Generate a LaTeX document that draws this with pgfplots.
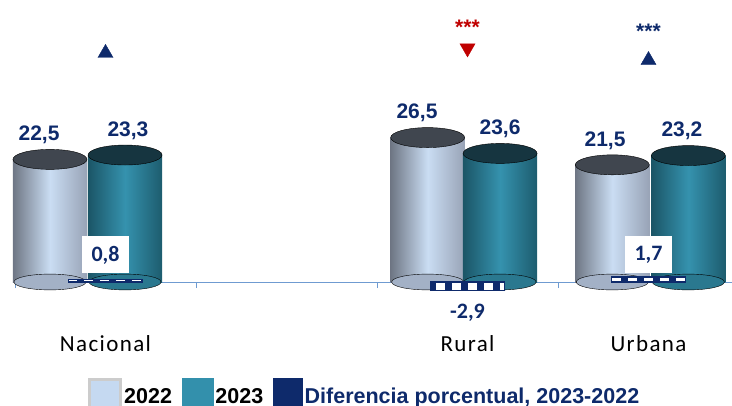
\documentclass[border=0pt]{standalone}
\usepackage{pgfplots}
\pgfplotsset{compat=1.18}
\usepackage{fontspec}
\setmainfont{Liberation Sans}
\newfontfamily\catfont[LetterSpace=6]{Carlito}
\newfontfamily\carl{Carlito}
\usetikzlibrary{patterns.meta}
\definecolor{navy}{HTML}{0E2A6B}
\definecolor{dred}{HTML}{C00000}
\definecolor{lb}{HTML}{CADDF3}
\definecolor{lbl}{HTML}{6E7684}
\definecolor{lbr}{HTML}{98A3B6}
\definecolor{lbtop}{HTML}{40464F}
\definecolor{lbbot}{HTML}{A3B1C6}
\definecolor{tl}{HTML}{3592AE}
\definecolor{tll}{HTML}{1B5566}
\definecolor{tlr}{HTML}{1D5C6E}
\definecolor{tltop}{HTML}{163540}
\definecolor{tlbot}{HTML}{2A788F}
\definecolor{axblue}{HTML}{6F9BD1}
\definecolor{legbl}{HTML}{C5D9F1}
\definecolor{legtl}{HTML}{3390AC}
\pgfplotsset{
  cylA/.style={forget plot, ybar, bar width=0.41, bar shift=0pt, draw=none,
    left color=lbl, right color=lbr, middle color=lb},
  cylB/.style={forget plot, ybar, bar width=0.41, bar shift=0pt, draw=none,
    left color=tll, right color=tlr, middle color=tl},
  ell/.style={forget plot, only marks, mark=*, mark size=37pt,
    mark options={yscale=0.27, fill=#1, draw=none}},
  bot/.style={forget plot, only marks, mark=*, mark size=36pt,
    mark options={yscale=0.22, fill=#1, draw=none}},
  vlab/.style={forget plot, draw=none, mark=none, nodes near coords, point meta=explicit symbolic,
    nodes near coords style={font=\bfseries\fontsize{21}{24}\selectfont, text=navy, anchor=south, yshift=12pt}},
}
\begin{document}
\begin{tikzpicture}
\begin{axis}[
  at={(15pt,123pt)}, anchor=south west,
  scale only axis, width=724pt, height=272.5pt,
  xmin=-0.5, xmax=3.5, ymin=0, ymax=50,
  clip=false,
  axis x line*=bottom, axis y line=none,
  x axis line style={draw=axblue, line width=1pt, -},
  xtick={-0.5,0.5,1.5,2.5}, xticklabels={,,,},
  tick align=outside, major tick length=6pt,
  tick style={draw=axblue, line width=1pt},
  extra x ticks={0,2,3},
  extra x tick labels={Nacional,Rural,Urbana},
  extra x tick style={major tick length=0pt},
  xticklabel style={font=\catfont\fontsize{23}{25}\selectfont, text=black, yshift=-50pt},
  legend style={at={(0,0)}, anchor=north west, xshift=73pt, yshift=-96pt,
    draw=none, fill=none, legend columns=3,
    font=\bfseries\fontsize{21.5}{23}\selectfont,
    /tikz/every even column/.append style={column sep=8pt},
    inner sep=0pt, nodes={inner sep=2pt}},
]
\addlegendimage{legend image code/.code={\draw[fill=legbl, draw=gray!40, line width=3pt] (1.5pt,-11.5pt) rectangle (32.5pt,17pt);}}
\addlegendentry{2022}
\addlegendimage{legend image code/.code={\fill[legtl] (0pt,-11.5pt) rectangle (31pt,18.5pt);}}
\addlegendentry{2023}
\addlegendimage{legend image code/.code={\fill[navy] (0pt,-11.5pt) rectangle (29pt,18.5pt);}}
\addlegendentry{\textcolor{navy}{Diferencia porcentual, 2023-2022}}
% 2022 cylinders
\addplot[bot=lbbot] coordinates {(-0.307,0) (1.78,0) (2.80,0)};
\addplot[cylA] coordinates {(-0.307,22.5)};
\addplot[cylA] coordinates {(1.78,26.5)};
\addplot[cylA] coordinates {(2.80,21.5)};
\addplot[ell=lbtop] coordinates {(-0.307,22.5) (1.78,26.5) (2.80,21.5)};
% 2023 cylinders
\addplot[bot=tlbot] coordinates {(0.108,0) (2.18,0) (3.22,0)};
\addplot[cylB] coordinates {(0.108,23.3)};
\addplot[cylB] coordinates {(2.18,23.6)};
\addplot[cylB] coordinates {(3.22,23.2)};
\addplot[ell=tltop] coordinates {(0.108,23.3) (2.18,23.6) (3.22,23.2)};
% value labels
\addplot[vlab] coordinates {(-0.367,22.5)[22,5] (1.721,26.5)[26,5] (2.760,21.5)[21,5]};
\addplot[vlab] coordinates {(0.124,23.3)[23,3] (2.180,23.6)[23,6] (3.185,23.2)[23,2]};
% significance markers
\addplot[forget plot, only marks, mark=triangle*, mark size=8.7pt, color=navy]
  coordinates {(0,42.0) (3,40.7)};
\addplot[forget plot, only marks, mark=triangle*, mark size=8.7pt, color=dred,
  mark options={rotate=180}] coordinates {(2,42.9)};
\addplot[forget plot, draw=none, mark=none, nodes near coords, point meta=explicit symbolic,
  nodes near coords style={font=\bfseries\fontsize{21}{22}\selectfont, text=dred, anchor=center}]
  coordinates {(2,46.7)[***]};
\addplot[forget plot, draw=none, mark=none, nodes near coords, point meta=explicit symbolic,
  nodes near coords style={font=\bfseries\fontsize{21}{22}\selectfont, text=navy, anchor=center}]
  coordinates {(3,46.0)[***]};
\end{axis}
\begin{axis}[
  at={(15pt,123pt)}, anchor=south west,
  scale only axis, width=724pt, height=272.5pt,
  xmin=-0.5, xmax=3.5, ymin=0, ymax=90.8,
  clip=false, hide axis]
\addplot[ybar, bar width=0.41, bar shift=0pt, fill=white, draw=navy, line width=1.5pt,
  postaction={pattern={Lines[angle=90,distance=16pt,line width=7pt]}, pattern color=navy}]
  coordinates {(0,0.8) (2,-2.9) (3,1.7)};
\addplot[draw=none, mark=none, nodes near coords, point meta=explicit symbolic,
  nodes near coords style={anchor=center, fill=white, text=navy,
    font=\carl\bfseries\fontsize{22}{24}\selectfont,
    minimum width=47pt, minimum height=37pt, inner sep=0pt}]
  coordinates {(0,9)[0,8] (3,9)[1,7]};
\addplot[draw=none, mark=none, nodes near coords, point meta=explicit symbolic,
  nodes near coords style={anchor=center, text=navy,
    font=\carl\bfseries\fontsize{22}{24}\selectfont, inner sep=0pt}]
  coordinates {(2,-10.3)[-2,9]};
\end{axis}
\pgfresetboundingbox
\path[use as bounding box] (0,0) rectangle (732pt,405pt);
\end{tikzpicture}
\end{document}
